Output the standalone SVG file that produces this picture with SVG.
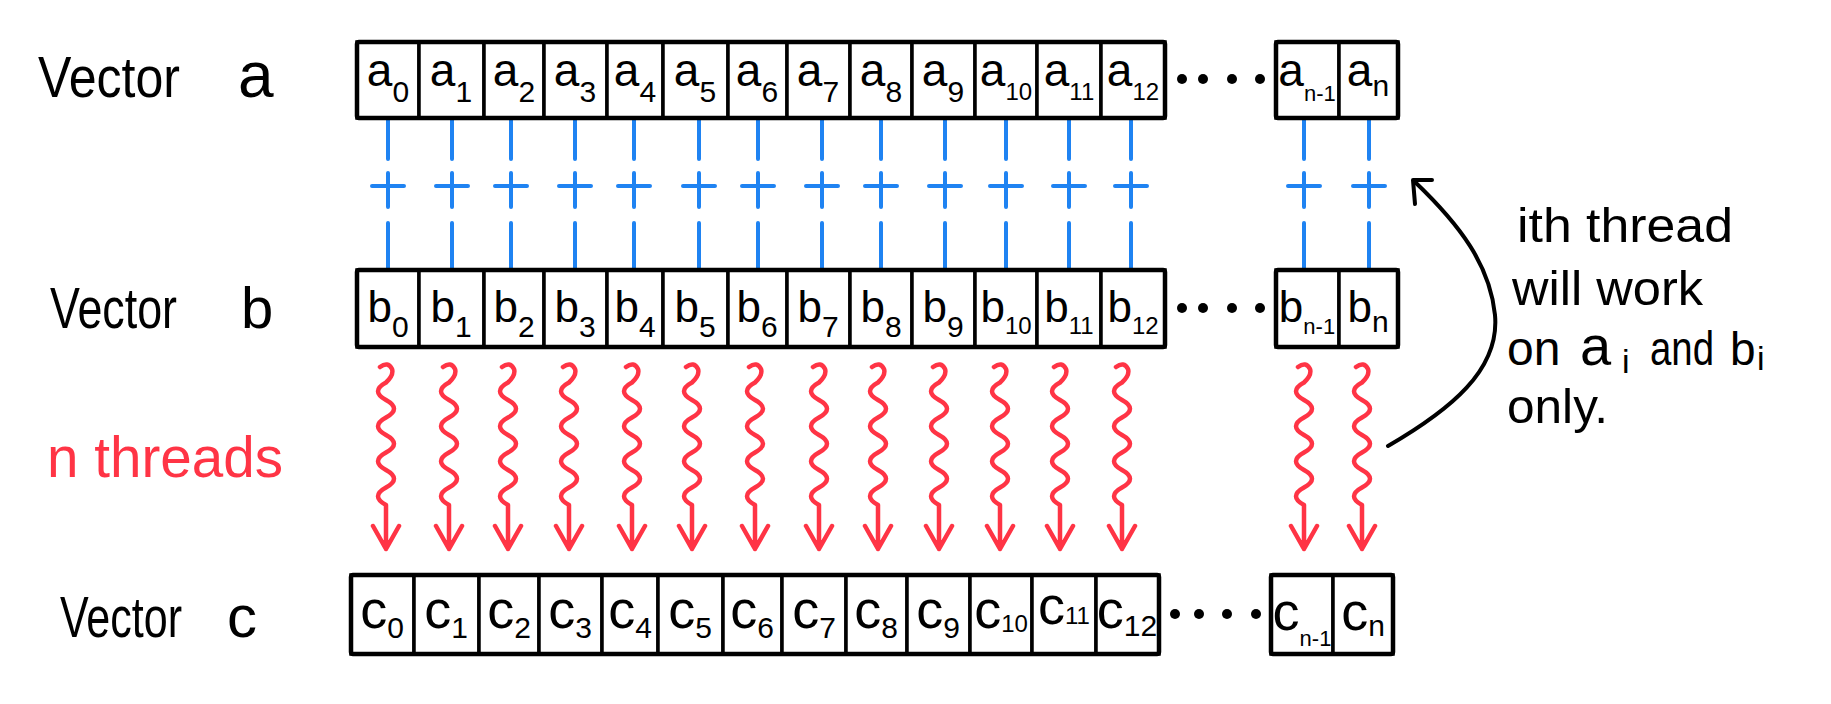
<svg xmlns="http://www.w3.org/2000/svg" xmlns:xlink="http://www.w3.org/1999/xlink" width="1831" height="704" viewBox="0 0 1831 704">
<style>
  text { font-family: "Liberation Sans", Arial, sans-serif; fill: #000; }
  .cell { fill: #fff; stroke: #000; stroke-width: 3.5; }
  .outer { fill: none; stroke: #000; stroke-width: 4.5; }
  .la { font-size: 46px; text-anchor: middle; }
  .lb { font-size: 44px; text-anchor: middle; }
  .lc { font-size: 54px; text-anchor: middle; }
  .sub { font-size: 30px; }
  .sub2 { font-size: 24px; }
  .subn { font-size: 22px; }
  .big { font-size: 58px; }
  .note { font-size: 48px; }
  .red { fill: #ff3445; }
  .dot { fill: #000; }
  .blue { fill: none; stroke: #1f83f2; stroke-width: 4; stroke-linecap: round; }
  .thr { fill: none; stroke: #ff3445; stroke-width: 4.5; stroke-linecap: round; stroke-linejoin: round; }
  .curve { fill: none; stroke: #000; stroke-width: 4; stroke-linecap: round; stroke-linejoin: round; }
</style>
<defs>
  <path id="plus" class="blue" d="M0,120 V159 M-16,186 H16 M0,173 V207 M0,223 V268"/>
  <path id="wave" class="thr" d="M-6,2 Q2,-4 6,4 Q8,10 0,17.5 Q-16,26.25 0,35 T0,52.5 T0,70 T0,87.5 T0,105 T0,122.5 T0,140 L0,184 M-13,161 L0,184 L13,161"/>
</defs>
<rect width="1831" height="704" fill="#fff"/>

<!-- connectors -->
<g id="connectors">
  <use xlink:href="#plus" x="388"/>
  <use xlink:href="#plus" x="452"/>
  <use xlink:href="#plus" x="511"/>
  <use xlink:href="#plus" x="575"/>
  <use xlink:href="#plus" x="634"/>
  <use xlink:href="#plus" x="699"/>
  <use xlink:href="#plus" x="758"/>
  <use xlink:href="#plus" x="822"/>
  <use xlink:href="#plus" x="881"/>
  <use xlink:href="#plus" x="945"/>
  <use xlink:href="#plus" x="1006"/>
  <use xlink:href="#plus" x="1069"/>
  <use xlink:href="#plus" x="1131"/>
  <use xlink:href="#plus" x="1304"/>
  <use xlink:href="#plus" x="1369"/>

  <use xlink:href="#wave" x="386" y="365"/>
  <use xlink:href="#wave" x="449" y="365"/>
  <use xlink:href="#wave" x="508" y="365"/>
  <use xlink:href="#wave" x="569" y="365"/>
  <use xlink:href="#wave" x="632" y="365"/>
  <use xlink:href="#wave" x="692" y="365"/>
  <use xlink:href="#wave" x="755" y="365"/>
  <use xlink:href="#wave" x="819" y="365"/>
  <use xlink:href="#wave" x="878" y="365"/>
  <use xlink:href="#wave" x="939" y="365"/>
  <use xlink:href="#wave" x="1000" y="365"/>
  <use xlink:href="#wave" x="1060" y="365"/>
  <use xlink:href="#wave" x="1122" y="365"/>
  <use xlink:href="#wave" x="1304" y="365"/>
  <use xlink:href="#wave" x="1362" y="365"/>

  <path class="curve" d="M1388,446 C1450,410 1500,370 1495,315 C1490,265 1460,225 1415,182"/>
  <path class="curve" d="M1432,180 L1413,180 L1415,204"/>
</g>

<!-- labels -->
<g id="label-a">
  <text class="big" x="38" y="97" textLength="142" lengthAdjust="spacingAndGlyphs">Vector</text>
  <text x="238" y="97" font-size="64">a</text>
</g>
<g id="label-b">
  <text class="big" x="50" y="328" textLength="127" lengthAdjust="spacingAndGlyphs">Vector</text>
  <text x="241" y="328" font-size="58">b</text>
</g>
<g id="label-threads">
  <text class="big red" x="47" y="477" textLength="236" lengthAdjust="spacingAndGlyphs">n threads</text>
</g>
<g id="label-c">
  <text class="big" x="60" y="637" textLength="122" lengthAdjust="spacingAndGlyphs">Vector</text>
  <text x="227" y="637" font-size="60">c</text>
</g>

<!-- vector a -->
<g id="vector-a">
  <rect class="cell" x="357" y="42" width="62" height="76"/>
  <rect class="cell" x="419" y="42" width="65" height="76"/>
  <rect class="cell" x="484" y="42" width="60" height="76"/>
  <rect class="cell" x="544" y="42" width="63" height="76"/>
  <rect class="cell" x="607" y="42" width="56" height="76"/>
  <rect class="cell" x="663" y="42" width="65" height="76"/>
  <rect class="cell" x="728" y="42" width="59" height="76"/>
  <rect class="cell" x="787" y="42" width="63" height="76"/>
  <rect class="cell" x="850" y="42" width="62" height="76"/>
  <rect class="cell" x="912" y="42" width="63" height="76"/>
  <rect class="cell" x="975" y="42" width="62" height="76"/>
  <rect class="cell" x="1037" y="42" width="64" height="76"/>
  <rect class="cell" x="1101" y="42" width="64" height="76"/>
  <rect class="outer" x="357" y="42" width="808" height="76" rx="2"/>
  <text class="la" x="388" y="86">a<tspan class="sub" dy="16">0</tspan></text>
  <text class="la" x="451" y="86">a<tspan class="sub" dy="16">1</tspan></text>
  <text class="la" x="514" y="86">a<tspan class="sub" dy="16">2</tspan></text>
  <text class="la" x="575" y="86">a<tspan class="sub" dy="16">3</tspan></text>
  <text class="la" x="635" y="86">a<tspan class="sub" dy="16">4</tspan></text>
  <text class="la" x="695" y="86">a<tspan class="sub" dy="16">5</tspan></text>
  <text class="la" x="757" y="86">a<tspan class="sub" dy="16">6</tspan></text>
  <text class="la" x="818" y="86">a<tspan class="sub" dy="16">7</tspan></text>
  <text class="la" x="881" y="86">a<tspan class="sub" dy="16">8</tspan></text>
  <text class="la" x="943" y="86">a<tspan class="sub" dy="16">9</tspan></text>
  <text class="la" x="1006" y="86">a<tspan class="sub2" dy="14">10</tspan></text>
  <text class="la" x="1069" y="86">a<tspan class="sub2" dy="14">11</tspan></text>
  <text class="la" x="1133" y="86">a<tspan class="sub2" dy="14">12</tspan></text>
  <circle class="dot" cx="1182" cy="79" r="5"/>
  <circle class="dot" cx="1203" cy="79" r="5"/>
  <circle class="dot" cx="1232" cy="79" r="5"/>
  <circle class="dot" cx="1260" cy="79" r="5"/>
</g>
<g id="vector-a-tail">
  <rect class="cell" x="1276" y="42" width="63" height="76"/>
  <rect class="cell" x="1339" y="42" width="59" height="76"/>
  <rect class="outer" x="1276" y="42" width="122" height="76" rx="2"/>
  <text class="la" x="1307" y="86">a<tspan class="subn" dy="15">n-1</tspan></text>
  <text class="la" x="1368" y="86">a<tspan class="sub" dy="10">n</tspan></text>
</g>

<!-- vector b -->
<g id="vector-b">
  <rect class="cell" x="357" y="270" width="62" height="77"/>
  <rect class="cell" x="419" y="270" width="65" height="77"/>
  <rect class="cell" x="484" y="270" width="60" height="77"/>
  <rect class="cell" x="544" y="270" width="63" height="77"/>
  <rect class="cell" x="607" y="270" width="56" height="77"/>
  <rect class="cell" x="663" y="270" width="65" height="77"/>
  <rect class="cell" x="728" y="270" width="59" height="77"/>
  <rect class="cell" x="787" y="270" width="63" height="77"/>
  <rect class="cell" x="850" y="270" width="62" height="77"/>
  <rect class="cell" x="912" y="270" width="63" height="77"/>
  <rect class="cell" x="975" y="270" width="62" height="77"/>
  <rect class="cell" x="1037" y="270" width="64" height="77"/>
  <rect class="cell" x="1101" y="270" width="64" height="77"/>
  <rect class="outer" x="357" y="270" width="808" height="77" rx="2"/>
  <text class="lb" x="388" y="322">b<tspan class="sub" dy="15">0</tspan></text>
  <text class="lb" x="451" y="322">b<tspan class="sub" dy="15">1</tspan></text>
  <text class="lb" x="514" y="322">b<tspan class="sub" dy="15">2</tspan></text>
  <text class="lb" x="575" y="322">b<tspan class="sub" dy="15">3</tspan></text>
  <text class="lb" x="635" y="322">b<tspan class="sub" dy="15">4</tspan></text>
  <text class="lb" x="695" y="322">b<tspan class="sub" dy="15">5</tspan></text>
  <text class="lb" x="757" y="322">b<tspan class="sub" dy="15">6</tspan></text>
  <text class="lb" x="818" y="322">b<tspan class="sub" dy="15">7</tspan></text>
  <text class="lb" x="881" y="322">b<tspan class="sub" dy="15">8</tspan></text>
  <text class="lb" x="943" y="322">b<tspan class="sub" dy="15">9</tspan></text>
  <text class="lb" x="1006" y="322">b<tspan class="sub2" dy="12">10</tspan></text>
  <text class="lb" x="1069" y="322">b<tspan class="sub2" dy="12">11</tspan></text>
  <text class="lb" x="1133" y="322">b<tspan class="sub2" dy="12">12</tspan></text>
  <circle class="dot" cx="1182" cy="308" r="5"/>
  <circle class="dot" cx="1203" cy="308" r="5"/>
  <circle class="dot" cx="1232" cy="308" r="5"/>
  <circle class="dot" cx="1260" cy="308" r="5"/>
</g>
<g id="vector-b-tail">
  <rect class="cell" x="1276" y="270" width="63" height="77"/>
  <rect class="cell" x="1339" y="270" width="59" height="77"/>
  <rect class="outer" x="1276" y="270" width="122" height="77" rx="2"/>
  <text class="lb" x="1307" y="322">b<tspan class="subn" dy="12">n-1</tspan></text>
  <text class="lb" x="1368" y="322">b<tspan class="sub" dy="10">n</tspan></text>
</g>

<!-- vector c -->
<g id="vector-c">
  <rect class="cell" x="351" y="575" width="63" height="79"/>
  <rect class="cell" x="414" y="575" width="65" height="79"/>
  <rect class="cell" x="479" y="575" width="60" height="79"/>
  <rect class="cell" x="539" y="575" width="63" height="79"/>
  <rect class="cell" x="602" y="575" width="56" height="79"/>
  <rect class="cell" x="658" y="575" width="65" height="79"/>
  <rect class="cell" x="723" y="575" width="59" height="79"/>
  <rect class="cell" x="782" y="575" width="64" height="79"/>
  <rect class="cell" x="846" y="575" width="61" height="79"/>
  <rect class="cell" x="907" y="575" width="63" height="79"/>
  <rect class="cell" x="970" y="575" width="62" height="79"/>
  <rect class="cell" x="1032" y="575" width="64" height="79"/>
  <rect class="cell" x="1096" y="575" width="63" height="79"/>
  <rect class="outer" x="351" y="575" width="808" height="79" rx="2"/>
  <text class="lc" x="382" y="628">c<tspan class="sub" dy="10">0</tspan></text>
  <text class="lc" x="446" y="628">c<tspan class="sub" dy="10">1</tspan></text>
  <text class="lc" x="509" y="628">c<tspan class="sub" dy="10">2</tspan></text>
  <text class="lc" x="570" y="628">c<tspan class="sub" dy="10">3</tspan></text>
  <text class="lc" x="630" y="628">c<tspan class="sub" dy="10">4</tspan></text>
  <text class="lc" x="690" y="628">c<tspan class="sub" dy="10">5</tspan></text>
  <text class="lc" x="752" y="628">c<tspan class="sub" dy="10">6</tspan></text>
  <text class="lc" x="814" y="628">c<tspan class="sub" dy="10">7</tspan></text>
  <text class="lc" x="876" y="628">c<tspan class="sub" dy="10">8</tspan></text>
  <text class="lc" x="938" y="628">c<tspan class="sub" dy="10">9</tspan></text>
  <text class="lc" x="1001" y="628">c<tspan class="sub2" dy="4">10</tspan></text>
  <text class="lc" x="1064" y="624" font-size="40">c<tspan class="sub2" dy="0">11</tspan></text>
  <text class="lc" x="1127" y="628">c<tspan class="sub" dy="8">12</tspan></text>
  <circle class="dot" cx="1175" cy="614" r="5"/>
  <circle class="dot" cx="1199" cy="614" r="5"/>
  <circle class="dot" cx="1227" cy="614" r="5"/>
  <circle class="dot" cx="1256" cy="614" r="5"/>
</g>
<g id="vector-c-tail">
  <rect class="cell" x="1271" y="575" width="62" height="79"/>
  <rect class="cell" x="1333" y="575" width="60" height="79"/>
  <rect class="outer" x="1271" y="575" width="122" height="79" rx="2"/>
  <text class="lc" x="1302" y="630">c<tspan class="subn" dy="16">n-1</tspan></text>
  <text class="lc" x="1363" y="630">c<tspan class="sub" dy="6">n</tspan></text>
</g>

<!-- annotation -->
<g id="note">
  <text class="note" x="1517" y="242" textLength="216" lengthAdjust="spacingAndGlyphs">ith thread</text>
  <text class="note" x="1512" y="305" textLength="191" lengthAdjust="spacingAndGlyphs">will work</text>
  <text class="note" x="1507" y="365">on<tspan x="1580" font-size="56">a</tspan><tspan x="1622" y="373" font-size="34">i</tspan><tspan x="1650" y="365" textLength="64" lengthAdjust="spacingAndGlyphs">and</tspan><tspan x="1730" y="365" font-size="46">b</tspan><tspan x="1757" y="370" font-size="34">i</tspan></text>
  <text class="note" x="1507" y="423" textLength="101" lengthAdjust="spacingAndGlyphs">only.</text>
</g>
</svg>
